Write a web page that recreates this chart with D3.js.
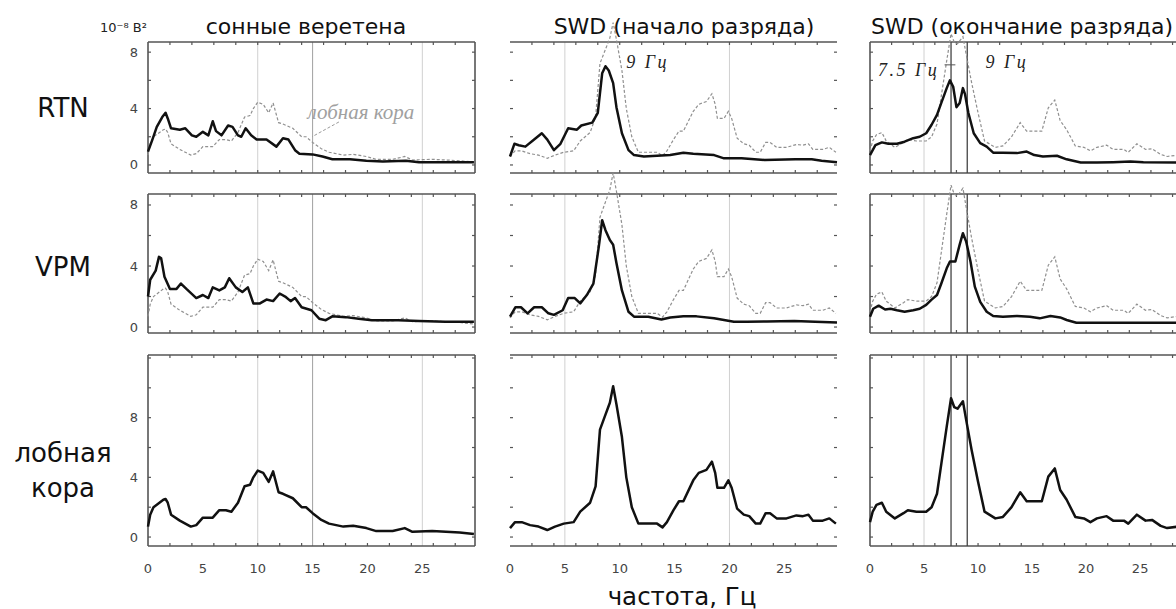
<!DOCTYPE html>
<html>
<head>
<meta charset="utf-8">
<script src="https://cdn.jsdelivr.net/npm/d3@7"></script>
<style>
  body { margin: 0; background: #fff; }
  svg { display: block; }
</style>
</head>
<body>
<svg id="chart" width="1176" height="609"></svg>
<script>
// ---- labels ----
const columnTitles = ["сонные веретена", "SWD (начало разряда)", "SWD (окончание разряда)"];
const rowLabels = [["RTN"], ["VPM"], ["лобная", "кора"]];
const xTickValues = [0, 5, 10, 15, 20, 25];
const yTickLabels = [0, 4, 8];
const yUnitLabel = "10⁻⁸ В²";
const xAxisTitle = "частота, Гц";
const cortexName = "лобная кора";

// ---- power spectra: [frequency, Hz ; power, 10^-8 V^2] ----
// frontal cortex
const cortexSpindles = [[0,0.7],[0.2,1.5],[0.5,2.0],[1.4,2.5],[1.6,2.55],[1.8,2.3],[2.1,1.5],[2.9,1.1],[3.9,0.7],[4.4,0.8],[5.0,1.3],[5.9,1.3],[6.5,1.8],[7.1,1.8],[7.6,1.7],[8.2,2.3],[8.8,3.4],[9.3,3.5],[9.6,4.0],[10.0,4.45],[10.5,4.3],[11.0,3.7],[11.4,4.4],[11.9,3.0],[12.3,2.9],[13.2,2.6],[14.0,2.0],[14.4,2.0],[15.0,1.6],[15.8,1.15],[16.5,0.9],[17.8,0.7],[18.7,0.75],[19.9,0.6],[20.8,0.4],[22.3,0.4],[23.4,0.6],[24.1,0.35],[25.9,0.4],[28.4,0.3],[29.7,0.2]];
const cortexOnset = [[0,0.6],[0.46,1.0],[1.07,1.0],[1.83,0.8],[2.6,0.7],[3.4,0.47],[4.1,0.7],[4.9,0.9],[5.8,1.0],[6.4,1.7],[7.3,2.3],[7.8,3.4],[8.2,7.2],[8.7,8.2],[9.1,9.0],[9.4,10.1],[9.7,8.9],[10.2,6.7],[10.6,4.0],[11.1,2.0],[11.7,0.9],[12.8,0.9],[13.4,0.9],[13.9,0.65],[14.3,1.0],[14.9,1.8],[15.4,2.4],[15.8,2.4],[16.7,3.8],[17.2,4.3],[17.9,4.5],[18.4,5.05],[18.7,4.3],[18.9,3.3],[19.5,3.3],[19.9,3.8],[20.2,3.3],[20.7,1.9],[21.3,1.5],[21.8,1.4],[22.4,0.9],[22.8,0.9],[23.3,1.6],[23.7,1.6],[24.3,1.25],[25.2,1.25],[26.1,1.45],[26.7,1.4],[27.2,1.5],[27.6,1.1],[28.5,1.1],[29.1,1.25],[29.7,0.9]];
const cortexOffset = [[0,1.0],[0.25,1.7],[0.6,2.15],[1.1,2.3],[1.5,1.7],[2.3,1.25],[3.1,1.6],[3.5,1.8],[4.3,1.7],[5.2,1.7],[5.7,2.0],[6.2,2.9],[6.6,4.9],[7.1,7.4],[7.5,9.3],[7.8,8.7],[8.1,8.6],[8.6,9.1],[8.9,7.85],[9.4,5.85],[10.0,3.7],[10.6,1.7],[11.6,1.25],[12.3,1.35],[13.1,2.0],[13.9,3.0],[14.5,2.4],[15.9,2.4],[16.5,4.05],[17.1,4.6],[17.6,3.15],[18.2,2.5],[19.0,1.35],[19.8,1.25],[20.4,1.0],[21.0,1.25],[21.9,1.4],[22.5,1.1],[23.5,1.1],[23.9,0.9],[24.7,1.5],[25.5,1.1],[26.1,1.15],[26.9,0.75],[27.5,0.6],[28.5,0.7]];
// reticular thalamic nucleus
const rtnSpindles = [[0,0.95],[0.4,1.8],[0.8,2.7],[1.3,3.4],[1.6,3.7],[1.8,3.3],[2.1,2.6],[2.9,2.5],[3.4,2.6],[4.0,2.1],[4.4,2.0],[5.0,2.35],[5.5,2.1],[5.9,3.1],[6.2,2.4],[6.7,2.1],[7.3,2.8],[7.7,2.7],[8.2,2.1],[8.5,2.0],[8.9,2.6],[9.4,2.1],[9.9,1.8],[10.8,1.8],[11.7,1.3],[12.3,1.9],[12.8,1.8],[13.4,1.05],[13.8,0.8],[15.0,0.75],[15.9,0.6],[16.8,0.4],[18.4,0.4],[19.9,0.3],[21.4,0.25],[23.5,0.3],[24.7,0.2],[27.1,0.2],[29.7,0.2]];
const rtnOnset = [[0,0.6],[0.4,1.5],[0.8,1.4],[1.4,1.3],[2.2,1.8],[2.9,2.25],[3.4,1.8],[4.0,1.05],[4.6,1.5],[5.3,2.6],[6.1,2.5],[6.5,2.8],[7.5,3.0],[8.0,3.7],[8.4,6.5],[8.7,7.0],[9.0,6.7],[9.4,5.8],[9.7,4.1],[10.2,2.25],[10.8,1.05],[11.3,0.7],[12.2,0.6],[13.4,0.65],[14.6,0.7],[15.8,0.87],[16.7,0.8],[18.6,0.7],[19.5,0.47],[21.1,0.47],[23.2,0.35],[26.0,0.4],[27.5,0.4],[28.4,0.3],[29.8,0.2]];
const rtnOffset = [[0,0.7],[0.5,1.4],[1.1,1.6],[1.7,1.5],[2.5,1.5],[3.2,1.65],[4.0,1.9],[4.6,2.0],[5.2,2.25],[5.7,2.85],[6.2,3.55],[6.6,4.4],[7.1,5.45],[7.4,6.0],[7.7,5.55],[8.0,4.1],[8.3,4.4],[8.6,5.45],[8.8,5.0],[9.1,3.7],[9.6,2.25],[10.2,1.55],[10.8,1.3],[11.4,0.87],[12.3,0.87],[13.6,0.84],[14.5,0.95],[15.2,0.7],[16.0,0.6],[17.3,0.65],[18.2,0.4],[19.5,0.17],[21.0,0.17],[22.5,0.2],[24.1,0.25],[25.3,0.2],[28.5,0.17]];
// ventral posteromedial nucleus
const vpmSpindles = [[0,2.0],[0.2,3.1],[0.7,3.7],[1.0,4.6],[1.2,4.5],[1.5,3.3],[2.0,2.5],[2.6,2.5],[3.0,2.85],[3.5,2.5],[4.4,1.9],[5.0,2.1],[5.5,1.9],[5.9,2.6],[6.5,2.4],[7.0,2.6],[7.4,3.2],[8.0,2.6],[8.6,2.3],[9.1,2.6],[9.6,1.55],[10.2,1.55],[10.8,1.8],[11.4,1.7],[12.0,2.2],[12.5,2.0],[13.0,1.7],[13.4,1.9],[14.0,1.3],[14.9,1.1],[15.6,0.55],[16.2,0.45],[16.8,0.7],[18.0,0.65],[19.2,0.55],[20.4,0.45],[22.8,0.45],[24.7,0.4],[27.1,0.35],[29.7,0.35]];
const vpmOnset = [[0,0.68],[0.5,1.3],[1.0,1.3],[1.6,0.9],[2.2,1.3],[2.9,1.3],[3.5,0.9],[4.0,0.8],[4.8,1.1],[5.3,1.9],[5.9,1.9],[6.4,1.55],[7.0,2.1],[7.6,2.85],[8.1,5.3],[8.4,7.0],[8.7,6.35],[9.1,5.7],[9.4,5.4],[9.7,4.2],[10.2,2.4],[10.8,1.0],[11.3,0.68],[12.6,0.68],[13.8,0.5],[14.6,0.63],[15.8,0.7],[17.0,0.7],[18.6,0.57],[20.4,0.35],[21.6,0.35],[23.4,0.37],[25.9,0.4],[27.8,0.35],[29.8,0.3]];
const vpmOffset = [[0,0.68],[0.3,1.2],[0.8,1.4],[1.4,1.15],[1.9,1.2],[2.5,1.1],[3.2,1.0],[4.0,1.1],[4.6,1.2],[5.2,1.45],[5.7,1.8],[6.2,2.1],[6.6,2.85],[7.1,3.85],[7.4,4.3],[7.9,4.3],[8.3,5.4],[8.6,6.15],[8.9,5.6],[9.3,4.3],[9.7,2.65],[10.2,1.65],[10.8,1.0],[11.4,0.72],[12.3,0.68],[13.6,0.72],[14.8,0.68],[15.7,0.57],[16.7,0.72],[17.6,0.63],[18.2,0.46],[19.1,0.28],[21.0,0.28],[24.1,0.28],[28.5,0.28]];

// grid lines and marked frequencies per column
const gridFreqs = [[10, 15, 25], [5, 20], [5]];
const markerFreqs = [[], [], [7.5, 9]];

// ---- layout ----
const svg = d3.select("#chart");
const FONT = "'DejaVu Sans', Verdana, sans-serif";
const SERIF = "'Liberation Serif', 'Times New Roman', serif";

const columns = [
  { x0: 148, x1: 475, sideBorders: true },
  { x0: 510, x1: 837, sideBorders: false },
  { x0: 870, x1: 1192, sideBorders: true }
];
const rows = [
  { y0: 42, y1: 173, domain: [-0.57, 8.72] },
  { y0: 194, y1: 333, domain: [-0.39, 8.72] },
  { y0: 355, y1: 546, domain: [-0.6, 12.2] }
];
const freqDomain = [0, 29.8];

// series placed in the grid: [row][column]
const mainSeries = [
  [rtnSpindles, rtnOnset, rtnOffset],
  [vpmSpindles, vpmOnset, vpmOffset],
  [cortexSpindles, cortexOnset, cortexOffset]
];
const cortexSeries = [cortexSpindles, cortexOnset, cortexOffset];

const root = svg.append("g");

function annot(g, x, y, txt, size, spacing) {
  return g.append("text").attr("x", x).attr("y", y)
    .attr("dominant-baseline", "central")
    .attr("font-family", SERIF).attr("font-style", "italic").attr("font-size", size)
    .attr("letter-spacing", spacing)
    .attr("fill", "#222").text(txt);
}

rows.forEach((row, ri) => {
  columns.forEach((col, ci) => {
    const x = d3.scaleLinear().domain(freqDomain).range([col.x0, col.x1]);
    const y = d3.scaleLinear().domain(row.domain).range([row.y1, row.y0]);
    const g = root.append("g");

    // vertical grid lines
    g.selectAll("line.grid").data(gridFreqs[ci]).join("line")
      .attr("x1", d => x(d)).attr("x2", d => x(d))
      .attr("y1", row.y0).attr("y2", row.y1)
      .attr("stroke", d => d === 15 ? "#a0a0a0" : "#d0d0d0").attr("stroke-width", 1);

    // frame
    const frame = (x1, y1, x2, y2) => g.append("line")
      .attr("x1", x1).attr("y1", y1).attr("x2", x2).attr("y2", y2)
      .attr("stroke", "#555").attr("stroke-width", 1.6);
    frame(col.x0, row.y0, col.x1, row.y0);
    frame(col.x0, row.y1, col.x1, row.y1);
    if (col.sideBorders) {
      frame(col.x0, row.y0, col.x0, row.y1);
      frame(col.x1, row.y0, col.x1, row.y1);
    }

    // small inward ticks
    const xt = d3.range(2, 30, 2);
    g.selectAll("line.xtt").data(xt).join("line")
      .attr("x1", d => x(d)).attr("x2", d => x(d)).attr("y1", row.y0).attr("y2", row.y0 + 3)
      .attr("stroke", "#555").attr("stroke-width", 1.2);
    g.selectAll("line.xtb").data(xt).join("line")
      .attr("x1", d => x(d)).attr("x2", d => x(d)).attr("y1", row.y1).attr("y2", row.y1 - 3)
      .attr("stroke", "#555").attr("stroke-width", 1.2);
    const yt = d3.range(Math.ceil(row.domain[0] / 2) * 2, row.domain[1], 2).filter(v => v > row.domain[0] + 0.3);
    g.selectAll("line.ytl").data(yt).join("line")
      .attr("x1", col.x0).attr("x2", col.x0 + 3).attr("y1", d => y(d)).attr("y2", d => y(d))
      .attr("stroke", "#555").attr("stroke-width", 1.2);
    g.selectAll("line.ytr").data(yt).join("line")
      .attr("x1", col.x1).attr("x2", col.x1 - 3).attr("y1", d => y(d)).attr("y2", d => y(d))
      .attr("stroke", "#555").attr("stroke-width", 1.2);

    // marked frequencies (dark, full height)
    g.selectAll("line.mark").data(markerFreqs[ci]).join("line")
      .attr("x1", d => x(d)).attr("x2", d => x(d))
      .attr("y1", row.y0).attr("y2", row.y1)
      .attr("stroke", "#444").attr("stroke-width", 1.3);

    const line = d3.line().x(d => x(d[0])).y(d => y(d[1]));

    // cortex overlay in thalamic rows
    if (ri < 2) {
      g.append("path").datum(cortexSeries[ci])
        .attr("d", line).attr("fill", "none")
        .attr("stroke", "#909090").attr("stroke-width", 1.2)
        .attr("stroke-dasharray", "3,2");
    }
    g.append("path").datum(mainSeries[ri][ci])
      .attr("d", line).attr("fill", "none")
      .attr("stroke", "#111").attr("stroke-width", 2.5)
      .attr("stroke-linejoin", "round");

    // y tick labels for the first column
    if (ci === 0) {
      g.selectAll("text.yl").data(yTickLabels).join("text")
        .attr("x", col.x0 - 10).attr("y", d => y(d))
        .attr("text-anchor", "end").attr("dominant-baseline", "central")
        .attr("font-family", FONT).attr("font-size", 13).attr("fill", "#444")
        .text(d => d);
    }
    // x tick labels under the bottom row
    if (ri === rows.length - 1) {
      g.selectAll("text.xl").data(xTickValues).join("text")
        .attr("x", d => x(d)).attr("y", row.y1 + 22)
        .attr("text-anchor", "middle").attr("dominant-baseline", "central")
        .attr("font-family", FONT).attr("font-size", 13).attr("fill", "#444")
        .text(d => d);
    }

    // annotations
    if (ri === 0 && ci === 0) {
      g.append("text").attr("x", x(19.4)).attr("y", y(3.76))
        .attr("text-anchor", "middle").attr("dominant-baseline", "central")
        .attr("font-family", SERIF).attr("font-style", "italic").attr("font-size", 21)
        .attr("fill", "#a0a0a0").text(cortexName);
      g.append("line").attr("x1", x(17.4)).attr("y1", y(3.05)).attr("x2", x(14.95)).attr("y2", y(2.0))
        .attr("stroke", "#9a9a9a").attr("stroke-width", 1).attr("stroke-dasharray", "3,2");
    }
    if (ri === 0 && ci === 1) {
      annot(g, x(10.6), y(7.3), "9 Гц", 18, 2.5);
    }
    if (ri === 0 && ci === 2) {
      annot(g, x(0.75), y(6.75), "7.5 Гц", 18, 2.5);
      g.append("line").attr("x1", x(6.9)).attr("x2", x(7.9)).attr("y1", y(7.1)).attr("y2", y(7.1))
        .attr("stroke", "#555").attr("stroke-width", 1);
      annot(g, x(10.7), y(7.3), "9 Гц", 18, 2.5);
    }
  });
});

// column titles
const titleX = [306, 684, 1022];
root.selectAll("text.title").data(columnTitles).join("text")
  .attr("x", (d, i) => titleX[i]).attr("y", 26)
  .attr("text-anchor", "middle").attr("dominant-baseline", "central")
  .attr("font-family", FONT).attr("font-size", 22).attr("fill", "#111")
  .text(d => d);

// row labels
const rowLabelY = [108, 267, 470];
rowLabels.forEach((lines, i) => {
  const t = root.append("text")
    .attr("x", 63).attr("text-anchor", "middle")
    .attr("font-family", FONT).attr("font-size", 26).attr("fill", "#111");
  lines.forEach((s, k) => {
    t.append("tspan").attr("x", 63)
      .attr("y", rowLabelY[i] + (k - (lines.length - 1) / 2) * 35)
      .attr("dominant-baseline", "central").text(s);
  });
});

// unit label
root.append("text").attr("x", 100).attr("y", 27).attr("dominant-baseline", "central")
  .attr("font-family", FONT).attr("font-size", 13).attr("fill", "#222").text(yUnitLabel);

// frequency axis title
root.append("text").attr("x", 682).attr("y", 596)
  .attr("text-anchor", "middle").attr("dominant-baseline", "central")
  .attr("font-family", FONT).attr("font-size", 24.5).attr("fill", "#111")
  .text(xAxisTitle);
</script>
</body>
</html>
